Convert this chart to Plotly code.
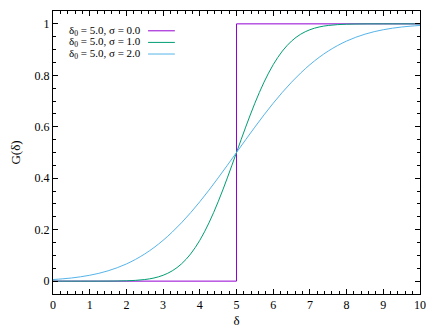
import plotly.graph_objects as go

# Data --------------------------------------------------------------------------
x_vals = [0.0, 0.25, 0.5, 0.75, 1.0, 1.25, 1.5, 1.75, 2.0, 2.25, 2.5, 2.75,
          3.0, 3.25, 3.5, 3.75, 4.0, 4.25, 4.5, 4.75, 5.0, 5.25, 5.5, 5.75,
          6.0, 6.25, 6.5, 6.75, 7.0, 7.25, 7.5, 7.75, 8.0, 8.25, 8.5, 8.75,
          9.0, 9.25, 9.5, 9.75, 10.0]

# sigma = 1.0
g_sigma1 = [0.0000, 0.0000, 0.0000, 0.0000, 0.0000, 0.0001, 0.0002, 0.0006,
            0.0013, 0.0030, 0.0062, 0.0122, 0.0228, 0.0401, 0.0668, 0.1057,
            0.1587, 0.2266, 0.3085, 0.4013, 0.5000, 0.5987, 0.6915, 0.7734,
            0.8413, 0.8943, 0.9332, 0.9599, 0.9772, 0.9878, 0.9938, 0.9970,
            0.9987, 0.9994, 0.9998, 0.9999, 1.0000, 1.0000, 1.0000, 1.0000,
            1.0000]

# sigma = 2.0
g_sigma2 = [0.0062, 0.0088, 0.0122, 0.0168, 0.0228, 0.0304, 0.0401, 0.0521,
            0.0668, 0.0846, 0.1057, 0.1303, 0.1587, 0.1908, 0.2266, 0.2660,
            0.3085, 0.3538, 0.4013, 0.4503, 0.5000, 0.5497, 0.5987, 0.6462,
            0.6915, 0.7340, 0.7734, 0.8092, 0.8413, 0.8697, 0.8943, 0.9154,
            0.9332, 0.9479, 0.9599, 0.9696, 0.9772, 0.9832, 0.9878, 0.9912,
            0.9938]

# sigma = 0.0 (step)
x_step = [0.0, 5.0, 5.0, 10.0]
g_sigma0 = [0.0, 0.0, 1.0, 1.0]

labels = ["δ<sub>0</sub> = 5.0, σ = 0.0",
          "δ<sub>0</sub> = 5.0, σ = 1.0",
          "δ<sub>0</sub> = 5.0, σ = 2.0"]

# Parameters --------------------------------------------------------------------
colours = ['#9400D3', '#009E73', '#56B4E9']
font_family = 'Liberation Serif'
line_w = 1.0

fig = go.Figure()

series = [(x_step, g_sigma0), (x_vals, g_sigma1), (x_vals, g_sigma2)]
for (xs, ys), colour in zip(series, colours):
    fig.add_trace(go.Scatter(
        x=xs, y=ys, mode='lines',
        line=dict(color=colour, width=line_w, shape='spline' if len(xs) > 4 else 'linear'),
        showlegend=False, hoverinfo='skip'
    ))

# Legend, gnuplot style: text on the left, sample on the right
legend_rows = [0.930, 0.889, 0.848]
for label, colour, yrow in zip(labels, colours, legend_rows):
    fig.add_annotation(
        x=0.245, y=yrow, xref='paper', yref='paper',
        text=label, showarrow=False, xanchor='right', yanchor='middle',
        font=dict(family=font_family, size=11, color='black')
    )
    fig.add_shape(
        type='line', xref='paper', yref='paper',
        x0=0.259, x1=0.332, y0=yrow, y1=yrow,
        line=dict(color=colour, width=line_w)
    )

axis_common = dict(
    showline=True, linecolor='black', linewidth=1, mirror='allticks',
    ticks='inside', ticklen=5, tickwidth=1, tickcolor='black',
    showgrid=False, zeroline=False, automargin=False,
    tickfont=dict(family=font_family, size=12, color='black'),
)

# page body has an 8px margin, so the figure is sized 8px smaller
fig.update_layout(
    width=431, height=321,
    margin=dict(l=45, r=19, t=3, b=35),
    plot_bgcolor='white', paper_bgcolor='white',
    font=dict(family=font_family, size=12, color='black'),
    xaxis=dict(
        range=[0, 10], tick0=0, dtick=1,
        minor=dict(ticks='inside', ticklen=3, dtick=0.2, tickcolor='black', showgrid=False),
        title=dict(text='δ', standoff=4, font=dict(family=font_family, size=13)),
        **axis_common
    ),
    yaxis=dict(
        range=[-0.05, 1.05], tick0=0, dtick=0.2,
        minor=dict(ticks='inside', ticklen=3, dtick=0.05, tickcolor='black', showgrid=False),
        title=dict(text='G(δ)', standoff=12, font=dict(family=font_family, size=13)),
        **axis_common
    ),
)

fig.write_html("out.html")
